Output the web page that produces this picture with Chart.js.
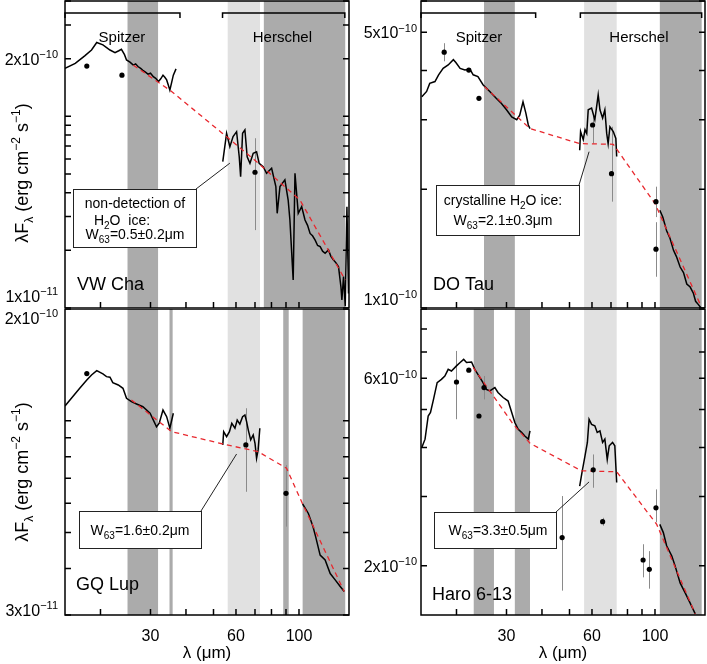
<!DOCTYPE html>
<html>
<head>
<meta charset="utf-8">
<title>Far-IR SEDs with water ice</title>
<script src="https://cdn.jsdelivr.net/npm/chart.js@4.4.1/dist/chart.umd.min.js"></script>
<style>
  body { margin: 0; background: #fff; }
  #page { position: relative; width: 707px; height: 664px; overflow: hidden; background: #fff; }
  #page canvas { position: absolute; }
</style>
</head>
<body>
<div id="page">
  <canvas id="vwcha"></canvas>
  <canvas id="dotau"></canvas>
  <canvas id="gqlup"></canvas>
  <canvas id="haro"></canvas>
</div>
<script>
// Shared wavelength axis (micron)
const waveMin = 15;
const waveMax = 150;
const waveTicks = [20, 30, 40, 50, 60, 70, 80, 90, 100];
const waveLabels = [30, 60, 100];

// ---- VW Cha ----
const vwIrsWave = [15.0, 16.3, 17.6, 18.6, 19.4, 20.4, 21.6, 22.5, 23.2, 23.7, 24.3, 24.7, 25.4, 26.1, 26.6, 27.1, 27.7, 28.2, 28.8, 29.4, 30.0, 30.7, 31.3, 32.0, 32.6, 33.2, 33.7, 34.2, 34.7, 35.1, 35.6, 36.1, 36.9];
const vwIrsFlux = [1.78e-10, 1.89e-10, 2.07e-10, 2.22e-10, 2.43e-10, 2.36e-10, 2.22e-10, 2.15e-10, 2.20e-10, 2.24e-10, 2.10e-10, 1.97e-10, 1.92e-10, 1.85e-10, 1.88e-10, 1.82e-10, 1.78e-10, 1.74e-10, 1.70e-10, 1.66e-10, 1.68e-10, 1.61e-10, 1.58e-10, 1.52e-10, 1.57e-10, 1.64e-10, 1.60e-10, 1.55e-10, 1.45e-10, 1.37e-10, 1.50e-10, 1.64e-10, 1.77e-10];
const vwPacsWave = [53.9, 55.6, 57.1, 58.6, 60.3, 61.6, 62.3, 63.3, 64.5, 65.7, 67.2, 69.0, 70.9, 72.4, 74.8, 76.9, 80.1, 82.9, 83.8, 85.7, 89.2, 91.6, 92.9, 95.4, 96.8, 99.4, 102.2, 105.0, 107.2, 109.4, 111.6, 114.0, 116.3, 118.7, 121.1, 123.6, 127.0, 129.5, 132.3, 135.0, 137.8, 140.5, 141.6, 143.5, 145.5, 147.5, 149.4];
const vwPacsFlux = [5.80e-11, 8.16e-11, 6.95e-11, 7.84e-11, 8.32e-11, 6.16e-11, 4.85e-11, 8.16e-11, 8.49e-11, 6.16e-11, 5.69e-11, 6.42e-11, 6.54e-11, 5.69e-11, 5.46e-11, 5.05e-11, 5.36e-11, 4.30e-11, 3.12e-11, 4.30e-11, 4.66e-11, 3.66e-11, 2.88e-11, 1.40e-11, 5.05e-11, 3.12e-11, 3.38e-11, 2.88e-11, 2.70e-11, 2.45e-11, 2.38e-11, 2.26e-11, 2.12e-11, 2.09e-11, 1.98e-11, 1.93e-11, 2.01e-11, 1.86e-11, 1.78e-11, 1.72e-11, 1.64e-11, 1.29e-11, 1.10e-11, 1.46e-11, 1.02e-11, 3.38e-11, 1.19e-11];
const vwContWave = [26.1, 35.6, 53.4, 70.9, 100.8, 145.5];
const vwContFlux = [1.85e-10, 1.35e-10, 8.22e-11, 5.80e-11, 3.66e-11, 1.40e-11];
const vwPhotWave = [17.9, 23.8, 70.0];
const vwPhotFlux = [1.83e-10, 1.64e-10, 5.11e-11];
const vwPhotLo = [null, null, 2.55e-11];
const vwPhotHi = [null, null, 7.69e-11];
const vwDarkBands = [[24.9, 31.9], [75.2, 145.5]];
const vwLightBands = [[56.1, 72.9]];

// ---- DO Tau ----
const doIrsWave = [15.1, 15.7, 16.1, 16.8, 17.3, 17.95, 18.7, 19.5, 19.9, 20.6, 21.4, 22.3, 22.9, 23.8, 24.8, 26.2, 27.6, 28.8, 30.0, 31.3, 32.6, 33.4, 34.3, 35.1, 35.8, 36.3];
const doIrsFlux = [3.43e-10, 3.54e-10, 3.71e-10, 3.75e-10, 3.90e-10, 4.05e-10, 4.13e-10, 4.26e-10, 4.19e-10, 4.05e-10, 4.01e-10, 4.03e-10, 3.90e-10, 3.86e-10, 3.68e-10, 3.54e-10, 3.40e-10, 3.30e-10, 3.18e-10, 3.05e-10, 3.00e-10, 3.08e-10, 3.33e-10, 3.12e-10, 2.91e-10, 2.85e-10];
const doPacsWave = [54.3, 54.7, 55.9, 56.7, 57.5, 58.2, 59.8, 61.4, 62.3, 63.1, 64.0, 65.4, 66.6, 67.6, 68.4, 69.4, 71.3, 72.8, 73.3];
const doPacsFlux = [2.51e-10, 2.80e-10, 2.67e-10, 2.83e-10, 2.77e-10, 3.18e-10, 3.21e-10, 3.00e-10, 3.24e-10, 3.47e-10, 3.18e-10, 3.03e-10, 3.18e-10, 2.77e-10, 2.61e-10, 2.88e-10, 2.80e-10, 2.69e-10, 2.42e-10];
const doLongWave = [104.0, 106.5, 109.9, 113.0, 116.2, 119.0, 122.6, 126.0, 129.4, 133.0, 136.5, 139.0, 142.2, 145.3];
const doLongFlux = [1.77e-10, 1.70e-10, 1.57e-10, 1.50e-10, 1.40e-10, 1.35e-10, 1.27e-10, 1.23e-10, 1.15e-10, 1.13e-10, 1.09e-10, 1.04e-10, 1.02e-10, 1.00e-10];
const doContWave = [25.1, 36.3, 54.3, 71.3, 100.0, 145.3];
const doContFlux = [3.64e-10, 2.85e-10, 2.61e-10, 2.60e-10, 1.84e-10, 1.01e-10];
const doPhotWave = [18.1, 22.1, 24.0, 60.3, 70.3, 100.8, 100.8];
const doPhotFlux = [4.45e-10, 4.01e-10, 3.40e-10, 2.91e-10, 2.19e-10, 1.86e-10, 1.41e-10];
const doPhotLo = [4.22e-10, null, null, 2.61e-10, 1.86e-10, 1.70e-10, 1.20e-10];
const doPhotHi = [4.69e-10, null, null, 3.08e-10, 2.88e-10, 2.03e-10, 1.65e-10];
const doDarkBands = [[25.0, 32.1], [104.0, 146.0]];
const doLightBands = [[56.3, 73.3]];

// ---- GQ Lup ----
const gqIrsWave = [15.0, 15.8, 16.9, 17.9, 18.6, 19.4, 20.4, 21.0, 21.6, 22.1, 23.1, 24.0, 24.7, 25.7, 26.8, 28.2, 29.9, 31.5, 32.2, 33.2, 34.2, 35.1, 36.1];
const gqIrsFlux = [1.096e-10, 1.15e-10, 1.223e-10, 1.288e-10, 1.329e-10, 1.365e-10, 1.337e-10, 1.315e-10, 1.31e-10, 1.267e-10, 1.249e-10, 1.223e-10, 1.15e-10, 1.126e-10, 1.11e-10, 1.091e-10, 1.048e-10, 0.964e-10, 0.985e-10, 1.069e-10, 1.026e-10, 0.955e-10, 1.048e-10];
const gqPacsWave = [53.9, 54.3, 55.6, 56.9, 58.0, 59.5, 60.6, 61.9, 63.3, 64.5, 65.4, 66.3, 67.6, 69.0, 70.0, 70.9, 71.8, 72.8];
const gqPacsFlux = [8.61e-11, 9.35e-11, 9.06e-11, 9.35e-11, 9.85e-11, 9.55e-11, 10.05e-11, 9.80e-11, 10.26e-11, 10.37e-11, 9.95e-11, 9.44e-11, 8.88e-11, 9.16e-11, 8.70e-11, 7.93e-11, 8.35e-11, 9.55e-11];
const gqLongWave = [103.0, 107.9, 112.0, 114.5, 118.7, 123.6, 128.8, 134.1, 139.7, 144.3];
const gqLongFlux = [5.97e-11, 5.63e-11, 5.19e-11, 4.87e-11, 4.35e-11, 4.22e-11, 3.88e-11, 3.73e-11, 3.58e-11, 3.47e-11];
const gqContWave = [25.7, 35.6, 54.0, 71.8, 90.4, 103.0, 144.3];
const gqContFlux = [1.138e-10, 9.35e-11, 8.66e-11, 8.26e-11, 7.45e-11, 5.97e-11, 3.47e-11];
const gqPhotWave = [17.9, 65.0, 90.0];
const gqPhotFlux = [1.34e-10, 8.61e-11, 6.38e-11];
const gqPhotLo = [null, 6.44e-11, 5.19e-11];
const gqPhotHi = [null, 1.081e-10, 7.60e-11];
const gqDarkBands = [[24.9, 31.9], [35.0, 35.9], [88.0, 92.0], [103.0, 145.5]];
const gqLightBands = [[56.1, 72.9]];

// ---- Haro 6-13 ----
const haroIrsWave = [15.1, 15.5, 15.9, 16.2, 16.6, 17.1, 17.7, 18.2, 18.7, 19.2, 20.0, 20.6, 21.2, 21.7, 22.6, 23.2, 23.8, 24.8, 25.5, 26.2, 27.3, 28.0, 29.2, 30.4, 31.3, 32.1, 33.0, 33.9, 34.8, 35.8, 36.3];
const haroIrsFlux = [4.00e-10, 4.20e-10, 4.81e-10, 4.91e-10, 5.30e-10, 5.85e-10, 5.96e-10, 6.08e-10, 6.32e-10, 6.26e-10, 6.45e-10, 6.58e-10, 6.70e-10, 6.58e-10, 6.60e-10, 6.32e-10, 6.14e-10, 5.85e-10, 5.62e-10, 5.57e-10, 5.68e-10, 5.52e-10, 5.36e-10, 5.25e-10, 4.91e-10, 4.63e-10, 4.45e-10, 4.37e-10, 4.28e-10, 4.20e-10, 4.41e-10];
const haroPacsWave = [54.3, 55.3, 56.7, 57.8, 58.6, 59.8, 61.4, 62.6, 64.0, 65.4, 66.6, 67.9, 69.0, 70.9, 72.2, 73.3];
const haroPacsFlux = [3.19e-10, 3.45e-10, 3.81e-10, 4.12e-10, 4.72e-10, 4.58e-10, 4.54e-10, 4.37e-10, 4.41e-10, 4.12e-10, 4.20e-10, 3.73e-10, 4.04e-10, 4.12e-10, 4.04e-10, 3.26e-10];
const haroLongWave = [104.0, 107.0, 109.9, 114.6, 117.7, 122.6, 127.6, 132.9, 138.6];
const haroLongFlux = [2.55e-10, 2.43e-10, 2.25e-10, 2.12e-10, 2.00e-10, 1.81e-10, 1.71e-10, 1.61e-10, 1.51e-10];
const haroContWave = [22.9, 31.7, 36.3, 55.1, 73.3, 101.4, 138.6];
const haroContFlux = [6.39e-10, 4.58e-10, 4.10e-10, 3.49e-10, 3.47e-10, 2.55e-10, 1.51e-10];
const haroPhotWave = [20.0, 22.1, 24.0, 25.0, 47.1, 60.6, 65.4, 90.8, 95.5, 100.8];
const haroPhotFlux = [5.87e-10, 6.29e-10, 4.81e-10, 5.68e-10, 2.36e-10, 3.51e-10, 2.59e-10, 2.07e-10, 1.96e-10, 2.81e-10];
const haroPhotLo = [4.72e-10, null, null, 5.30e-10, 1.73e-10, 3.16e-10, 2.53e-10, 1.87e-10, 1.75e-10, 2.58e-10];
const haroPhotHi = [7.04e-10, null, null, 6.08e-10, 3.01e-10, 3.84e-10, 2.65e-10, 2.27e-10, 2.18e-10, 3.13e-10];
const haroDarkBands = [[23.0, 27.1], [32.1, 36.3], [104.0, 146.0]];
const haroLightBands = [[56.3, 73.3]];

// Instrument coverage brackets of the top row: [from, to, label, label position]
const leftBrackets = [[15, 38.1, 'Spitzer', 23.8], [53.8, 145, 'Herschel', 87.4]];
const rightBrackets = [[15, 38, 'Spitzer', 24.0], [54.6, 146, 'Herschel', 87.8]];

const FONT = '"Liberation Sans", Arial, Helvetica, sans-serif';
const DARK = '#ababab';
const LIGHT = '#e1e1e1';
const RED = '#e8282e';
const TICK = 6;

// draw text made of [text, 'sub'|'sup'|''] pieces, y is the baseline
function drawRich(ctx, parts, x, y, size, align) {
  const small = Math.round(size * 0.68);
  const fonts = parts.map(p => (p[1] ? small : size) + 'px ' + FONT);
  const widths = parts.map((p, i) => { ctx.font = fonts[i]; return ctx.measureText(p[0]).width; });
  const total = widths.reduce((a, b) => a + b, 0);
  let cx = align === 'right' ? x - total : align === 'center' ? x - total / 2 : x;
  ctx.textAlign = 'left';
  ctx.textBaseline = 'alphabetic';
  parts.forEach((p, i) => {
    ctx.font = fonts[i];
    const dy = p[1] === 'sub' ? size * 0.28 : p[1] === 'sup' ? -size * 0.42 : 0;
    ctx.fillText(p[0], cx, y + dy);
    cx += widths[i];
  });
}

function sciParts(v) {
  const e = Math.floor(Math.log10(v) + 1e-9);
  const m = Math.round(v / Math.pow(10, e));
  return [[m + 'x10', ''], ['\u2212' + (-e), 'sup']];
}

// 1..9 x 10^n tick values inside [min, max]
function logTicks(min, max) {
  const out = [];
  for (let e = Math.floor(Math.log10(min)); e <= Math.ceil(Math.log10(max)); e++) {
    for (let m = 1; m <= 9; m++) {
      const v = m * Math.pow(10, e);
      if (v >= min * 0.999 && v <= max * 1.001) out.push(v);
    }
  }
  return out;
}

const panels = [
  {
    id: 'vwcha', rect: [0, 0, 353, 308], padTop: 1, axisLeft: 65, axisRight: 4, xAxisH: 0, showX: false,
    yMin: 1e-11, yMax: 4e-10, yLabels: [[2e-10, 0], [1e-11, -12]], labelGap: 7, yTitleY: 173,
    spectra: [[vwIrsWave, vwIrsFlux], [vwPacsWave, vwPacsFlux]],
    cont: [vwContWave, vwContFlux], phot: [vwPhotWave, vwPhotFlux, vwPhotLo, vwPhotHi],
    dark: vwDarkBands, light: vwLightBands, brackets: leftBrackets,
    note: { x: 8, y: 188, w: 123, h: 58, target: [57.1, 5.7e-11], lines: [
      [[['non-detection of', '']], 62, 19],
      [[['H', ''], ['2', 'sub'], ['O  ice:', '']], 49, 36],
      [[['W', ''], ['63', 'sub'], ['=0.5\u00b10.2\u03bcm', '']], 62, 50]
    ] },
    name: 'VW Cha', nameDx: 12, nameDy: 18
  },
  {
    id: 'dotau', rect: [353, 0, 354, 308], padTop: 1, axisLeft: 68, axisRight: 2, xAxisH: 0, showX: false,
    yMin: 1e-10, yMax: 6e-10, yLabels: [[5e-10, 0], [1e-10, -9]], labelGap: 4, yTitleY: null,
    spectra: [[doIrsWave, doIrsFlux], [doPacsWave, doPacsFlux], [doLongWave, doLongFlux]],
    cont: [doContWave, doContFlux], phot: [doPhotWave, doPhotFlux, doPhotLo, doPhotHi],
    dark: doDarkBands, light: doLightBands, brackets: rightBrackets,
    note: { x: 15, y: 184, w: 143, h: 50, target: [58.6, 2.49e-10], lines: [
      [[['crystalline H', ''], ['2', 'sub'], ['O ice:', '']], 67, 20],
      [[['W', ''], ['63', 'sub'], ['=2.1\u00b10.3\u03bcm', '']], 67, 40]
    ] },
    name: 'DO Tau', nameDx: 12, nameDy: 18
  },
  {
    id: 'gqlup', rect: [0, 308, 353, 356], padTop: 1, axisLeft: 65, axisRight: 4, xAxisH: 49, showX: true,
    yMin: 3e-11, yMax: 2e-10, yLabels: [[2e-10, 9], [3e-11, -5]], labelGap: 7, yTitleY: 164,
    spectra: [[gqIrsWave, gqIrsFlux], [gqPacsWave, gqPacsFlux], [gqLongWave, gqLongFlux]],
    cont: [gqContWave, gqContFlux], phot: [gqPhotWave, gqPhotFlux, gqPhotLo, gqPhotHi],
    dark: gqDarkBands, light: gqLightBands, brackets: [],
    note: { x: 14, y: 202, w: 122, h: 37, target: [60.3, 8.14e-11], lines: [
      [[['W', ''], ['63', 'sub'], ['=1.6\u00b10.2\u03bcm', '']], 61, 24]
    ] },
    name: 'GQ Lup', nameDx: 11, nameDy: 25
  },
  {
    id: 'haro', rect: [353, 308, 354, 356], padTop: 1, axisLeft: 68, axisRight: 2, xAxisH: 49, showX: true,
    yMin: 1.5e-10, yMax: 9e-10, yLabels: [[6e-10, 0], [2e-10, 0]], labelGap: 4, yTitleY: null,
    spectra: [[haroIrsWave, haroIrsFlux], [haroPacsWave, haroPacsFlux], [haroLongWave, haroLongFlux]],
    cont: [haroContWave, haroContFlux], phot: [haroPhotWave, haroPhotFlux, haroPhotLo, haroPhotHi],
    dark: haroDarkBands, light: haroLightBands, brackets: [],
    note: { x: 13, y: 203, w: 122, h: 36, target: [58.6, 3.27e-10], lines: [
      [[['W', ''], ['63', 'sub'], ['=3.3\u00b10.5\u03bcm', '']], 64, 23]
    ] },
    name: 'Haro 6-13', nameDx: 11, nameDy: 15
  }
];

function decorations(p, yTicks) {
  return {
    id: 'decor_' + p.id,
    // shaded bands go under everything else
    beforeDraw(chart) {
      const { ctx, chartArea: a, scales: { x } } = chart;
      ctx.save();
      ctx.beginPath();
      ctx.rect(a.left, a.top, a.right - a.left, a.bottom - a.top);
      ctx.clip();
      const fill = (list, color) => list.forEach(([w0, w1]) => {
        const x0 = x.getPixelForValue(w0);
        const x1 = x.getPixelForValue(w1);
        ctx.fillStyle = color;
        ctx.fillRect(x0, a.top, x1 - x0, a.bottom - a.top);
      });
      fill(p.light, LIGHT);
      fill(p.dark, DARK);
      ctx.restore();
    },
    // error bars behind the points
    beforeDatasetsDraw(chart) {
      const { ctx, scales: { x, y } } = chart;
      const [wave, , lo, hi] = p.phot;
      ctx.save();
      ctx.strokeStyle = '#8a8a8a';
      ctx.lineWidth = 1;
      wave.forEach((w, i) => {
        if (lo[i] == null) return;
        const px = Math.round(x.getPixelForValue(w)) + 0.5;
        ctx.beginPath();
        ctx.moveTo(px, y.getPixelForValue(hi[i]));
        ctx.lineTo(px, y.getPixelForValue(lo[i]));
        ctx.stroke();
      });
      ctx.restore();
    },
    afterDraw(chart) {
      const { ctx, chartArea: a, scales: { x, y } } = chart;
      ctx.save();
      ctx.setLineDash([]);
      ctx.fillStyle = '#000';
      ctx.strokeStyle = '#000';

      // inward tick marks: bottom edge and both sides
      ctx.lineWidth = 1.5;
      waveTicks.forEach(v => {
        const px = x.getPixelForValue(v);
        ctx.beginPath();
        ctx.moveTo(px, a.bottom);
        ctx.lineTo(px, a.bottom - TICK);
        ctx.stroke();
      });
      yTicks.forEach(v => {
        const py = y.getPixelForValue(v);
        ctx.beginPath();
        ctx.moveTo(a.left, py);
        ctx.lineTo(a.left + TICK, py);
        ctx.moveTo(a.right, py);
        ctx.lineTo(a.right - TICK, py);
        ctx.stroke();
      });

      // Spitzer / Herschel coverage brackets
      p.brackets.forEach(([w0, w1, label, wl]) => {
        const x0 = x.getPixelForValue(w0), x1 = x.getPixelForValue(w1);
        const by = a.top + 12;
        ctx.beginPath();
        ctx.moveTo(x0, by + 5); ctx.lineTo(x0, by); ctx.lineTo(x1, by); ctx.lineTo(x1, by + 5);
        ctx.stroke();
        drawRich(ctx, [[label, '']], x.getPixelForValue(wl), a.top + 41, 15, 'center');
      });

      // annotation box with connector
      const n = p.note;
      const bx = a.left + n.x, by = a.top + n.y;
      ctx.lineWidth = 1;
      ctx.strokeStyle = '#222';
      ctx.beginPath();
      ctx.moveTo(bx + n.w, by);
      ctx.lineTo(x.getPixelForValue(n.target[0]), y.getPixelForValue(n.target[1]));
      ctx.stroke();
      ctx.fillStyle = '#fff';
      ctx.fillRect(bx, by, n.w, n.h);
      ctx.strokeRect(bx + 0.5, by + 0.5, n.w, n.h);
      ctx.fillStyle = '#000';
      n.lines.forEach(([parts, cx, ly]) => drawRich(ctx, parts, bx + cx, by + ly, 14, 'center'));

      // object name
      drawRich(ctx, [[p.name, '']], a.left + p.nameDx, a.bottom - p.nameDy, 18, 'left');

      // frame
      ctx.strokeStyle = '#000';
      ctx.lineWidth = 1.5;
      ctx.strokeRect(a.left, a.top, a.right - a.left, a.bottom - a.top);

      // y tick labels
      p.yLabels.forEach(([v, dy]) => {
        drawRich(ctx, sciParts(v), a.left - p.labelGap, y.getPixelForValue(v) + dy + 6, 16, 'right');
      });

      // y axis title
      if (p.yTitleY != null) {
        ctx.translate(28, p.yTitleY);
        ctx.rotate(-Math.PI / 2);
        drawRich(ctx, [['\u03bbF', ''], ['\u03bb', 'sub'], [' (erg cm', ''], ['\u22122', 'sup'], [' s', ''], ['\u22121', 'sup'], [')', '']], 0, 0, 18, 'center');
      }
      ctx.restore();
    }
  };
}

function buildPanel(p) {
  const canvas = document.getElementById(p.id);
  canvas.width = p.rect[2];
  canvas.height = p.rect[3];
  canvas.style.left = p.rect[0] + 'px';
  canvas.style.top = p.rect[1] + 'px';

  const toXY = (w, f) => w.map((v, i) => ({ x: v, y: f[i] }));
  const yTicks = logTicks(p.yMin, p.yMax);

  const datasets = [
    { data: toXY(p.phot[0], p.phot[1]), showLine: false, pointRadius: 2.6, pointBackgroundColor: '#000', pointBorderWidth: 0 },
    { data: toXY(p.cont[0], p.cont[1]), showLine: true, borderColor: RED, borderWidth: 1.3, borderDash: [5, 4], pointRadius: 0 }
  ];
  p.spectra.forEach(([w, f]) => {
    datasets.push({ data: toXY(w, f), showLine: true, borderColor: '#000', borderWidth: 1.5, pointRadius: 0 });
  });

  new Chart(canvas, {
    type: 'scatter',
    data: { datasets },
    options: {
      responsive: false,
      animation: false,
      events: [],
      layout: { padding: { left: 0, right: p.axisRight, top: p.padTop, bottom: 0 }, autoPadding: false },
      plugins: { legend: { display: false }, tooltip: { enabled: false } },
      scales: {
        x: {
          type: 'logarithmic', position: 'bottom', min: waveMin, max: waveMax,
          afterBuildTicks: ax => { ax.ticks = waveTicks.map(v => ({ value: v })); },
          afterFit: ax => { ax.height = p.xAxisH; },
          ticks: {
            display: p.showX, autoSkip: false, maxRotation: 0, minRotation: 0, padding: 4,
            color: '#000', font: { family: FONT, size: 16 },
            callback: v => waveLabels.includes(v) ? String(v) : ''
          },
          grid: { display: false },
          border: { display: false },
          title: { display: p.showX, text: '\u03bb (\u03bcm)', color: '#000', font: { family: FONT, size: 17 }, padding: { top: 0, bottom: 0 } }
        },
        y: {
          type: 'logarithmic', position: 'left', min: p.yMin, max: p.yMax,
          afterBuildTicks: ax => { ax.ticks = yTicks.map(v => ({ value: v })); },
          afterFit: ax => { ax.width = p.axisLeft; },
          ticks: { display: false },
          grid: { display: false },
          border: { display: false }
        }
      }
    },
    plugins: [decorations(p, yTicks)]
  });
}

panels.forEach(buildPanel);
</script>
</body>
</html>
